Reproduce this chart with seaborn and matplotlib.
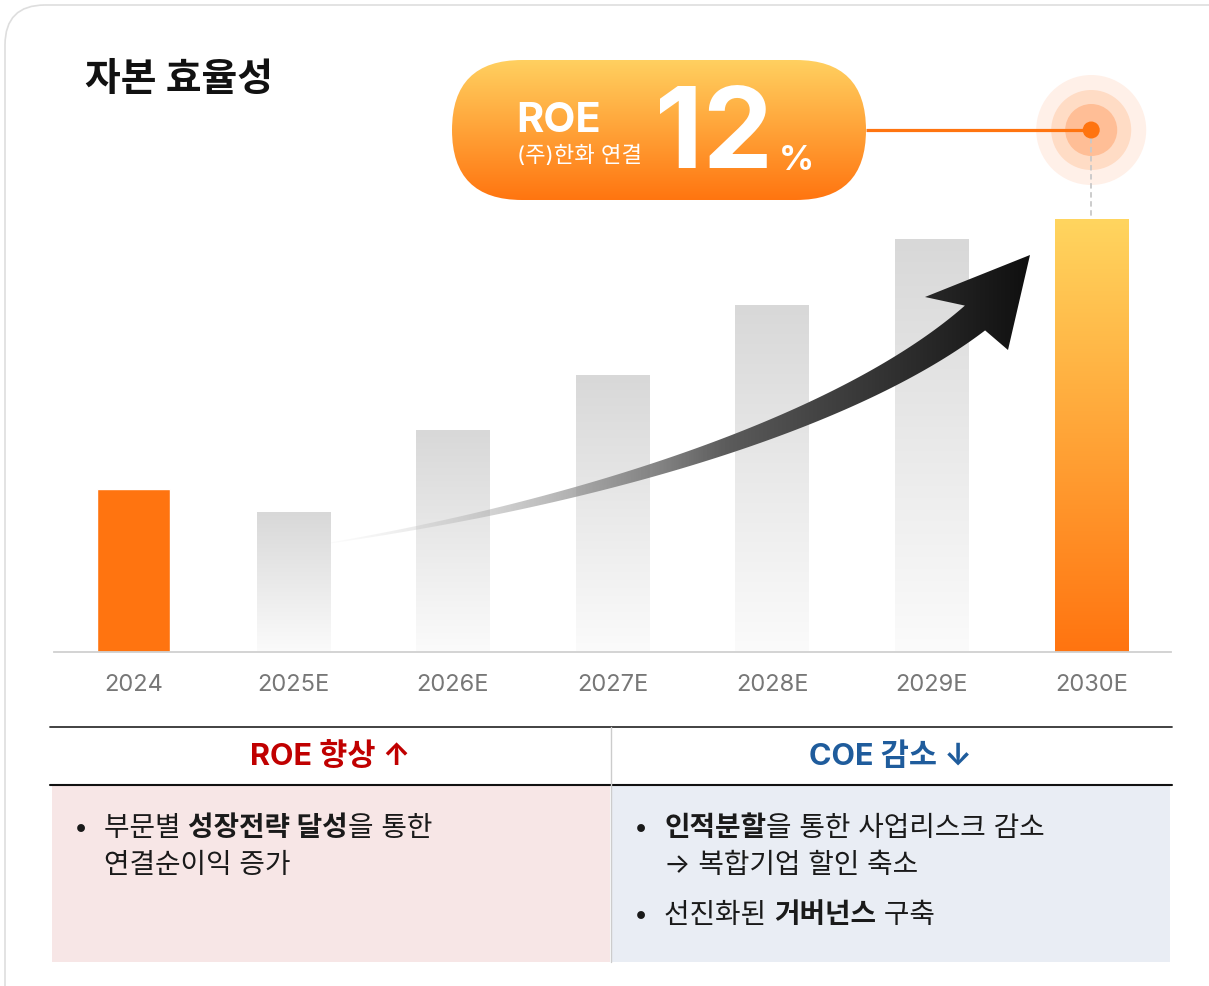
import numpy as np
import pandas as pd
import matplotlib.pyplot as plt
import seaborn as sns
from matplotlib.patches import FancyBboxPatch, Polygon, Circle, Rectangle
from matplotlib.colors import to_rgb

# data (2030E target = 12%)
years = ["2024", "2025E", "2026E", "2027E", "2028E", "2029E", "2030E"]
roe = [4.52, 3.88, 6.15, 7.68, 9.62, 11.45, 12.0]
target_label = "12"
title = "자본 효율성"
badge_title = "ROE"
badge_sub = "(주)한화 연결"
left_head = "ROE 향상 ↑"
right_head = "COE 감소 ↓"
left_lines = [[("부문별 ", "normal"), ("성장전략 달성", "bold"), ("을 통한", "normal")],
              [("연결순이익 증가", "normal")]]
right_lines = [[("인적분할", "bold"), ("을 통한 사업리스크 감소", "normal")],
               [("→ 복합기업 할인 축소", "normal")],
               [("선진화된 ", "normal"), ("거버넌스", "bold"), (" 구축", "normal")]]

sns.set_style("white")
plt.rcParams['font.family'] = ['Inter', 'Noto Sans CJK KR', 'DejaVu Sans']

W, H = 1209, 986
fig = plt.figure(figsize=(W / 100, H / 100), dpi=100, facecolor='white')

# bar chart area
ax = fig.add_axes([54 / W, (H - 652) / H, (1171 - 54) / W, (652 - 200) / H])
df = pd.DataFrame({"year": years, "roe": roe})
base_cols = ['#ff7410'] + ['#dddddd'] * 5 + ['#ff7410']
sns.barplot(data=df, x="year", y="roe", hue="year", palette=base_cols,
            width=0.46, saturation=1, legend=False, ax=ax)

def vgrad(top, bottom, n=256):
    a, b = np.array(to_rgb(top)), np.array(to_rgb(bottom))
    s = np.linspace(0, 1, n)[:, None]
    return (a * (1 - s) + b * s)[:, None, :]

bars = [b for c in ax.containers for b in c]
for i, p in enumerate(bars):
    if i == 0:
        continue
    if i == len(bars) - 1:
        img = vgrad('#ffd55f', '#ff7410')
    else:
        img = vgrad('#d8d8d8', '#fbfbfb')
    x0, w, h = p.get_x(), p.get_width(), p.get_height()
    im = ax.imshow(img, extent=[x0, x0 + w, 0, h], aspect='auto', origin='upper', zorder=2)
    im.set_clip_path(p)
    p.set_facecolor('none')
    p.set_edgecolor('none')

ax.set_xlim(-0.5, 6.5)
ax.set_ylim(0, 452 / 36.08)
ax.set_yticks([])
ax.set_xlabel('')
ax.set_ylabel('')
sns.despine(ax=ax, left=True)
ax.spines['bottom'].set_color('#d0d0d0')
ax.spines['bottom'].set_linewidth(1.3)
ax.tick_params(axis='x', length=0, pad=16, labelsize=17, labelcolor='#777777')
ax.patch.set_alpha(0)

# overlay in pixel coordinates
ov = fig.add_axes([0, 0, 1, 1], zorder=5)
ov.set_xlim(0, W)
ov.set_ylim(H, 0)
ov.axis('off')
ov.patch.set_alpha(0)

# card border
ov.add_patch(FancyBboxPatch((5, 5), 1260, 1060, boxstyle="round,pad=0,rounding_size=40",
                            fc='none', ec='#dedede', lw=1.2))

ov.text(85, 80, title, fontsize=28, fontweight='bold', color='#111111', va='center', ha='left')

# curved gradient arrow
P = np.array([[330, 543], [600, 500], [850, 420], [975, 318]], float)
t = np.linspace(0, 1, 200)[:, None]
B = (1 - t) ** 3 * P[0] + 3 * (1 - t) ** 2 * t * P[1] + 3 * (1 - t) * t ** 2 * P[2] + t ** 3 * P[3]
dB = 3 * (1 - t) ** 2 * (P[1] - P[0]) + 6 * (1 - t) * t * (P[2] - P[1]) + 3 * t ** 2 * (P[3] - P[2])
tan = dB / np.linalg.norm(dB, axis=1)[:, None]
nrm = np.column_stack([tan[:, 1], -tan[:, 0]])
hw = (0.5 + 15.5 * t.ravel() ** 1.1)[:, None]
top, bot = B + nrm * hw, B - nrm * hw
arrow_pts = np.vstack([top, [[925, 297], [1030, 255], [1008, 350]], bot[::-1]])
arrow = Polygon(arrow_pts, closed=True, fc='none', ec='none')
ov.add_patch(arrow)
xs = np.linspace(325, 1035, 400)
tt = np.clip((xs - 330) / 700, 0, 1)
v = 0.88 - 0.82 * tt ** 0.8
alpha = np.clip(0.1 + 1.6 * tt, 0, 1)
grad = np.stack([v, v, v, alpha], axis=1)[None, :, :]
im = ov.imshow(grad, extent=[325, 1035, 560, 250], aspect='auto', zorder=3)
im.set_clip_path(arrow)
ov.set_xlim(0, W)
ov.set_ylim(H, 0)

# ROE badge
pill = FancyBboxPatch((452, 60), 414, 140, boxstyle="round,pad=0,rounding_size=70",
                      fc='none', ec='none')
ov.add_patch(pill)
bim = ov.imshow(vgrad('#ffd060', '#ff7510'), extent=[452, 866, 200, 60], aspect='auto', zorder=4)
bim.set_clip_path(pill)
ov.set_xlim(0, W)
ov.set_ylim(H, 0)
ov.text(516, 132, badge_title, fontsize=30, fontweight='bold', color='white', va='baseline', zorder=6)
ov.text(517, 155, badge_sub, fontsize=16, color='white', va='center', zorder=6)
ov.text(655, 168, target_label, fontsize=80, fontweight='bold', color='white', va='baseline', zorder=6)
ov.text(779, 170, "%", fontsize=25, fontweight='bold', color='white', va='baseline', zorder=6)

# target marker linked to the 2030E bar
bx, by = ax.transData.transform((len(years) - 1, roe[-1]))
tx, ty = bx, 130
top_y = H - by
for r, c in [(55, '#fff0e8'), (40, '#ffdcc5'), (26, '#ffbe96')]:
    ov.add_patch(Circle((tx, ty), r, fc=c, ec='none', zorder=4))
ov.plot([866, tx], [ty, ty], color='#ff7410', lw=2.3, zorder=5, solid_capstyle='butt')
ov.plot([tx, tx], [ty + 8, top_y], color='#c8c8c8', lw=1.3, ls=(0, (3, 2)), zorder=4)
ov.add_patch(Circle((tx, ty), 8.5, fc='#ff7410', ec='none', zorder=6))

# table
ov.add_patch(Rectangle((52, 785), 558, 177, fc='#f7e6e6', ec='none'))
ov.add_patch(Rectangle((612, 785), 558, 177, fc='#e9edf4', ec='none'))
ov.plot([50, 1172], [727, 727], color='#333333', lw=1.3)
ov.plot([50, 1172], [784.5, 784.5], color='#111111', lw=1.5)
ov.plot([611, 611], [727, 962], color='#cccccc', lw=1)
ov.text(330, 757, left_head, fontsize=22, fontweight='bold', color='#c00000', ha='center', va='center')
ov.text(890, 757, right_head, fontsize=22, fontweight='bold', color='#1f5c9c', ha='center', va='center')

renderer = fig.canvas.get_renderer()

def draw_runs(x, y, parts, size=20, color='#1a1a1a'):
    for txt, wt in parts:
        tobj = ov.text(x, y, txt, fontsize=size, fontweight=wt, color=color, va='baseline', ha='left')
        x = tobj.get_window_extent(renderer).x1

ov.text(74, 835, "•", fontsize=18, color='#1a1a1a', va='baseline')
draw_runs(104, 836, left_lines[0])
draw_runs(104, 873, left_lines[1])
ov.text(634, 835, "•", fontsize=18, color='#1a1a1a', va='baseline')
draw_runs(664, 836, right_lines[0])
draw_runs(664, 873, right_lines[1])
ov.text(634, 922, "•", fontsize=18, color='#1a1a1a', va='baseline')
draw_runs(664, 923, right_lines[2])

fig.savefig('out.png', dpi=100, facecolor='white')
